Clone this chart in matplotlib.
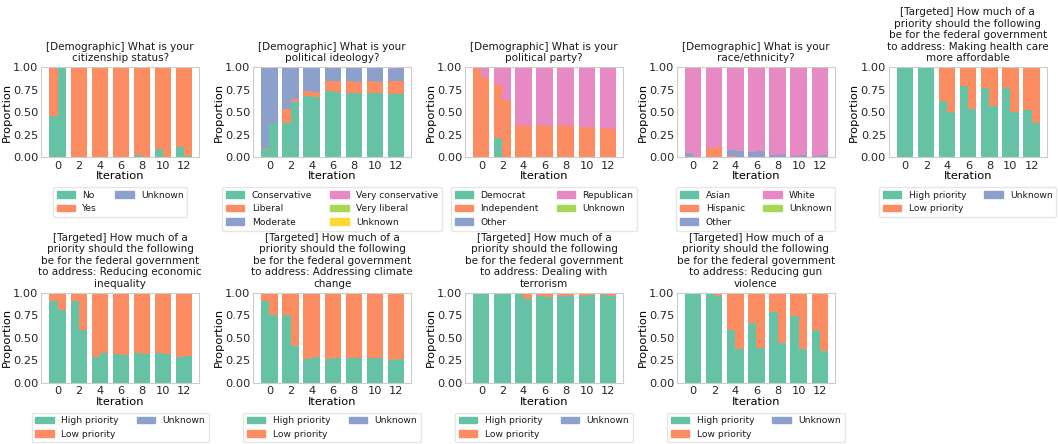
import numpy as np
import matplotlib
matplotlib.use("Agg")
import matplotlib.pyplot as plt
from matplotlib.patches import Patch

# Set2 colours, in stacking order
colors = ['#66c2a5', '#fc8d62', '#8da0cb', '#e78ac3', '#a6d854', '#ffd92f']

# 14 bars per panel (two per labelled iteration)
n_bars = 14
tick_vals = [0, 2, 4, 6, 8, 10, 12]

z = [0.0] * 14

# citizenship
cit_titles = "[Demographic] What is your\ncitizenship status?"
cit_labels = ['No', 'Yes', 'Unknown']
cit_no = [0.46, 1.00, 0, 0, 0, 0, 0, 0, 0.02, 0, 0.09, 0, 0.11, 0.01]
cit_yes = [0.54, 0, 1, 1, 1, 1, 1, 1, 0.98, 1, 0.91, 1, 0.89, 0.99]
cit_unk = z

# ideology
ideo_title = "[Demographic] What is your\npolitical ideology?"
ideo_labels = ['Conservative', 'Liberal', 'Moderate', 'Very conservative', 'Very liberal', 'Unknown']
ideo_cons = [0.09, 0.37, 0.38, 0.61, 0.68, 0.67, 0.73, 0.72, 0.71, 0.71, 0.71, 0.71, 0.70, 0.70]
ideo_lib = [0.01, 0.00, 0.15, 0.04, 0.05, 0.05, 0.11, 0.12, 0.13, 0.12, 0.13, 0.12, 0.15, 0.15]
ideo_mod = [0.90, 0.63, 0.47, 0.35, 0.27, 0.28, 0.16, 0.16, 0.15, 0.16, 0.15, 0.16, 0.13, 0.14]
ideo_vcons = [0, 0, 0, 0, 0, 0, 0, 0, 0.01, 0.01, 0.01, 0.01, 0.02, 0.01]
ideo_vlib = z
ideo_unk = z

# party
party_title = "[Demographic] What is your\npolitical party?"
party_labels = ['Democrat', 'Independent', 'Other', 'Republican', 'Unknown']
party_dem = [0, 0, 0.21, 0, 0, 0, 0, 0, 0, 0, 0, 0, 0, 0]
party_ind = [1.00, 0.88, 0.59, 0.63, 0.36, 0.35, 0.36, 0.35, 0.36, 0.35, 0.33, 0.33, 0.32, 0.31]
party_oth = z
party_rep = [0, 0.12, 0.20, 0.37, 0.64, 0.65, 0.64, 0.65, 0.64, 0.65, 0.67, 0.67, 0.68, 0.69]
party_unk = z

# race
race_title = "[Demographic] What is your\nrace/ethnicity?"
race_labels = ['Asian', 'Hispanic', 'Other', 'White', 'Unknown']
race_asian = z
race_hisp = [0, 0, 0.10, 0.11, 0.01, 0, 0, 0, 0, 0, 0, 0, 0, 0]
race_oth = [0.05, 0, 0, 0, 0.07, 0.07, 0.06, 0.07, 0.02, 0.04, 0.01, 0.02, 0.01, 0.02]
race_white = [0.95, 1.0, 0.90, 0.89, 0.92, 0.93, 0.94, 0.93, 0.98, 0.96, 0.99, 0.98, 0.99, 0.98]
race_unk = z

# targeted questions
prio_labels = ['High priority', 'Low priority', 'Unknown']
tgt = "[Targeted] How much of a\npriority should the following\nbe for the federal government\nto address: "

health_title = tgt + "Making health care\nmore affordable"
health_high = [1, 1, 1, 1, 0.62, 0.50, 0.79, 0.54, 0.77, 0.57, 0.77, 0.50, 0.52, 0.38]
health_low = [0, 0, 0, 0, 0.38, 0.50, 0.21, 0.46, 0.23, 0.43, 0.23, 0.50, 0.48, 0.62]

econ_title = tgt + "Reducing economic\ninequality"
econ_high = [0.91, 0.81, 0.91, 0.58, 0.29, 0.33, 0.32, 0.31, 0.33, 0.32, 0.33, 0.32, 0.29, 0.30]
econ_low = [0.09, 0.19, 0.09, 0.42, 0.71, 0.67, 0.68, 0.69, 0.67, 0.68, 0.67, 0.68, 0.71, 0.70]

clim_title = tgt + "Addressing climate\nchange"
clim_high = [0.91, 0.75, 0.75, 0.41, 0.26, 0.29, 0.26, 0.27, 0.27, 0.27, 0.27, 0.27, 0.25, 0.26]
clim_low = [0.09, 0.25, 0.25, 0.59, 0.74, 0.71, 0.74, 0.73, 0.73, 0.73, 0.73, 0.73, 0.75, 0.74]

terr_title = tgt + "Dealing with\nterrorism"
terr_high = [1, 1, 1, 1, 1.0, 0.93, 0.96, 0.95, 0.96, 0.96, 0.96, 0.97, 0.97, 0.96]
terr_low = [0, 0, 0, 0, 0, 0.07, 0.04, 0.05, 0.04, 0.04, 0.04, 0.03, 0.03, 0.04]

gun_title = tgt + "Reducing gun\nviolence"
gun_high = [1, 1, 1.0, 0.96, 0.58, 0.37, 0.66, 0.38, 0.78, 0.44, 0.74, 0.37, 0.59, 0.35]
gun_low = [0, 0, 0, 0.04, 0.42, 0.63, 0.34, 0.62, 0.22, 0.56, 0.26, 0.63, 0.41, 0.65]

panels = [
    (cit_titles, cit_labels, [cit_no, cit_yes, cit_unk]),
    (ideo_title, ideo_labels, [ideo_cons, ideo_lib, ideo_mod, ideo_vcons, ideo_vlib, ideo_unk]),
    (party_title, party_labels, [party_dem, party_ind, party_oth, party_rep, party_unk]),
    (race_title, race_labels, [race_asian, race_hisp, race_oth, race_white, race_unk]),
    (health_title, prio_labels, [health_high, health_low, z]),
    (econ_title, prio_labels, [econ_high, econ_low, z]),
    (clim_title, prio_labels, [clim_high, clim_low, z]),
    (terr_title, prio_labels, [terr_high, terr_low, z]),
    (gun_title, prio_labels, [gun_high, gun_low, z]),
]

plt.rcParams['axes.edgecolor'] = '0.8'
plt.rcParams['xtick.major.size'] = 0
plt.rcParams['ytick.major.size'] = 0
plt.rcParams['xtick.major.pad'] = 2.5
plt.rcParams['ytick.major.pad'] = 2
plt.rcParams['text.color'] = '0.1'

fig, axes = plt.subplots(2, 5, figsize=(10.58, 4.44), dpi=100)
plt.subplots_adjust(left=0.039, right=0.9894, bottom=0.138, top=0.849, wspace=0.342, hspace=1.5)
axes = axes.ravel()

w = 0.77
idx = np.arange(n_bars)
xpos = 2 * (idx // 2) + (idx % 2 - 0.5) * w

for ax, (title, labels, series) in zip(axes, panels):
    bottom = np.zeros(n_bars)
    for k, vals in enumerate(series):
        vals = np.array(vals, dtype=float)
        ax.bar(xpos, vals, width=w, bottom=bottom, color=colors[k], linewidth=0)
        bottom += vals
    ax.set_xlim(-1.55, 13.45)
    ax.set_ylim(0, 1)
    ax.set_xticks(tick_vals)
    ax.set_yticks([0, 0.25, 0.5, 0.75, 1.0])
    ax.set_yticklabels(['0.00', '0.25', '0.50', '0.75', '1.00'])
    ax.tick_params(labelsize=8.2, colors='0.15')
    ax.set_xlabel('Iteration', fontsize=8.2, labelpad=0.5)
    ax.set_ylabel('Proportion', fontsize=8.2, labelpad=1)
    ax.set_title(title, fontsize=7.5, pad=4)
    handles = [Patch(color=colors[k], label=lab) for k, lab in enumerate(labels)]
    ax.legend(handles=handles, ncol=2, loc='upper center', bbox_to_anchor=(0.5, -0.28),
              fontsize=6.6, edgecolor='0.9', framealpha=1)

axes[-1].axis('off')

plt.savefig('out.png', dpi=100)
